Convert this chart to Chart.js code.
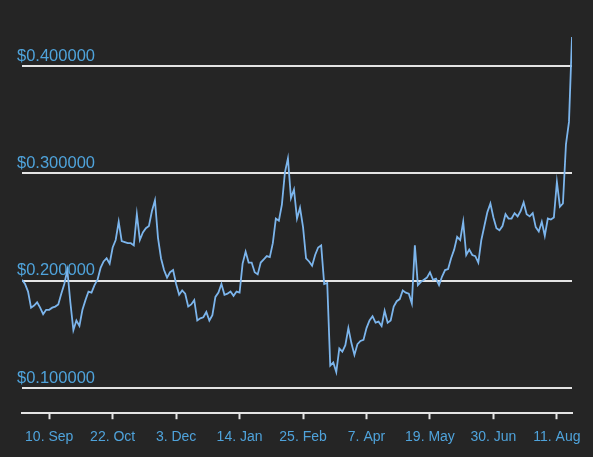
<!DOCTYPE html>
<html>
<head>
<meta charset="utf-8">
<script src="https://cdn.jsdelivr.net/npm/chart.js@4.4.1/dist/chart.umd.min.js"></script>
<style>
  html, body { margin: 0; padding: 0; background: #252525; }
  #wrap { width: 593px; height: 457px; }
</style>
</head>
<body>
<div id="wrap"><canvas id="chart" width="593" height="457"></canvas></div>
<script>
const startDate = '2019-08-23';
const stepDays = 2;
const prices = [
  0.201, 0.197, 0.190, 0.175, 0.177, 0.180, 0.175, 0.169, 0.173, 0.173,
  0.175, 0.176, 0.178, 0.188, 0.197, 0.210, 0.180, 0.154, 0.163, 0.158,
  0.173, 0.182, 0.190, 0.189, 0.196, 0.201, 0.212, 0.218, 0.221, 0.216,
  0.231, 0.238, 0.255, 0.237, 0.236, 0.235, 0.235, 0.233, 0.262, 0.238,
  0.245, 0.249, 0.251, 0.265, 0.275, 0.240, 0.221, 0.210, 0.203, 0.208,
  0.210, 0.197, 0.187, 0.191, 0.188, 0.176, 0.178, 0.182, 0.163, 0.165,
  0.166, 0.171, 0.163, 0.168, 0.185, 0.189, 0.197, 0.187, 0.188, 0.190,
  0.186, 0.190, 0.189, 0.216, 0.227, 0.217, 0.217, 0.208, 0.206, 0.217,
  0.220, 0.223, 0.222, 0.235, 0.258, 0.256, 0.271, 0.301, 0.314, 0.277,
  0.285, 0.258, 0.268, 0.250, 0.221, 0.218, 0.214, 0.224, 0.231, 0.233,
  0.197, 0.198, 0.121, 0.124, 0.115, 0.137, 0.134, 0.140, 0.156, 0.142,
  0.131, 0.141, 0.144, 0.145, 0.156, 0.163, 0.167, 0.161, 0.162, 0.158,
  0.172, 0.161, 0.163, 0.176, 0.181, 0.183, 0.191, 0.189, 0.188, 0.179,
  0.233, 0.196, 0.199, 0.201, 0.203, 0.208, 0.201, 0.202, 0.196, 0.204,
  0.210, 0.211, 0.221, 0.229, 0.241, 0.238, 0.255, 0.224, 0.229, 0.224,
  0.223, 0.217, 0.238, 0.251, 0.264, 0.272, 0.259, 0.249, 0.247, 0.251,
  0.262, 0.258, 0.258, 0.263, 0.260, 0.265, 0.273, 0.262, 0.260, 0.263,
  0.250, 0.246, 0.255, 0.242, 0.258, 0.257, 0.259, 0.292, 0.269, 0.272,
  0.327, 0.348, 0.427
];
const tickDates = ['2019-09-10', '2019-10-22', '2019-12-03', '2020-01-14', '2020-02-25',
  '2020-04-07', '2020-05-19', '2020-06-30', '2020-08-11'];
const monthNames = ['Jan', 'Feb', 'Mar', 'Apr', 'May', 'Jun', 'Jul', 'Aug', 'Sep', 'Oct', 'Nov', 'Dec'];
const yTicks = [0.1, 0.2, 0.3, 0.4];

const DAY = 86400000;
const dayOf = d => Math.round((Date.parse(d) - Date.parse(startDate)) / DAY);
const tickDays = tickDates.map(dayOf);
const tickLabel = {};
tickDates.forEach(d => {
  const dt = new Date(d + 'T00:00:00Z');
  tickLabel[dayOf(d)] = dt.getUTCDate() + '. ' + monthNames[dt.getUTCMonth()];
});

const points = prices.map((p, i) => ({ x: i * stepDays, y: p }));

const labelColor = '#4fa3db';
const gridColor = '#e4e4e4';
const fontFamily = '"Liberation Sans", Arial, sans-serif';

new Chart(document.getElementById('chart').getContext('2d'), {
  type: 'line',
  data: {
    datasets: [{
      data: points,
      borderColor: '#7cb5ec',
      borderWidth: 1.8,
      pointRadius: 0,
      tension: 0,
      fill: false
    }]
  },
  options: {
    responsive: false,
    animation: false,
    devicePixelRatio: 1,
    layout: { padding: { left: 22, right: 21, top: 10, bottom: 1 } },
    plugins: {
      legend: { display: false },
      tooltip: { enabled: false }
    },
    scales: {
      x: {
        type: 'linear',
        min: 0,
        max: (prices.length - 1) * stepDays,
        afterBuildTicks: axis => { axis.ticks = tickDays.map(v => ({ value: v })); },
        grid: {
          drawOnChartArea: false,
          drawTicks: true,
          tickLength: 6,
          tickWidth: 2,
          color: gridColor
        },
        border: { display: true, color: gridColor, width: 2 },
        ticks: {
          autoSkip: false,
          maxRotation: 0,
          padding: 10,
          color: labelColor,
          font: { family: fontFamily, size: 14 },
          callback: v => tickLabel[v] || ''
        }
      },
      y: {
        min: 0.0767,
        max: 0.4522,
        afterBuildTicks: axis => { axis.ticks = yTicks.map(v => ({ value: v })); },
        afterFit: axis => { axis.width = 0; },
        grid: {
          color: gridColor,
          lineWidth: 2,
          drawTicks: false
        },
        border: { display: false },
        ticks: {
          mirror: true,
          padding: -5,
          labelOffset: -10,
          color: labelColor,
          font: { family: fontFamily, size: 16.5 },
          callback: v => '$' + Number(v).toFixed(6)
        }
      }
    }
  }
});
</script>
</body>
</html>
